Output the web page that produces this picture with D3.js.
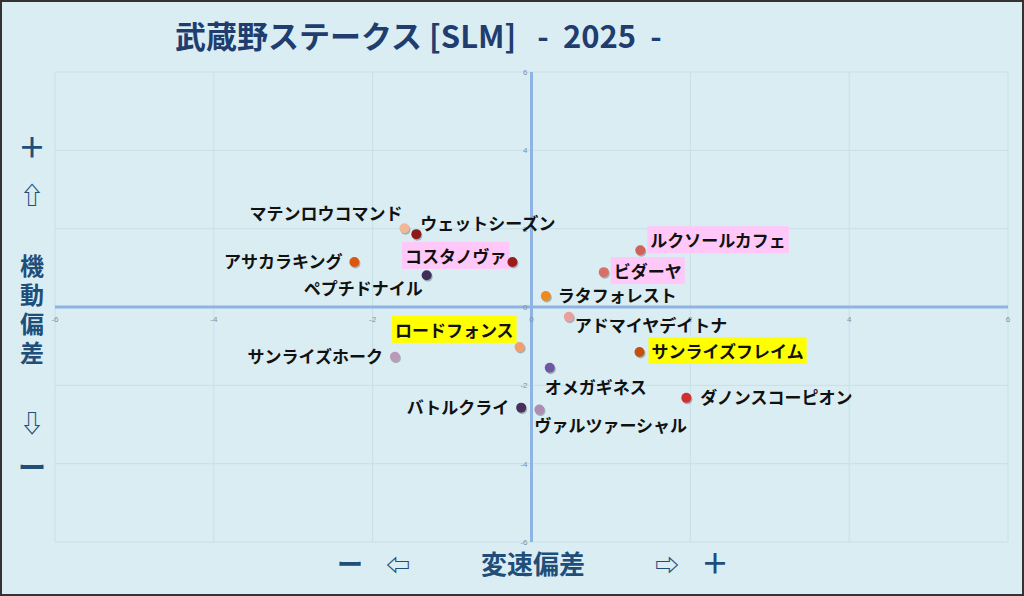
<!DOCTYPE html><html><head><meta charset="utf-8"><script src="https://cdn.jsdelivr.net/npm/d3@7"></script>
<style>body{margin:0;background:#fff}svg{display:block}</style></head><body><svg id="c" width="1024" height="596"></svg>
<script>
const names=["マテンロウコマンド","ウェットシーズン","コスタノヴァ","アサカラキング","ペプチドナイル","ラタフォレスト","アドマイヤデイトナ","ロードフォンス","サンライズホーク","オメガギネス","バトルクライ","ヴァルツァーシャル","ルクソールカフェ","ビダーヤ","サンライズフレイム","ダノンスコーピオン"];
const xs=[-1.60,-1.45,-0.24,-2.23,-1.32,0.18,0.47,-0.15,-1.72,0.23,-0.13,0.10,1.37,0.91,1.36,1.95];
const ys=[2.01,1.86,1.15,1.15,0.81,0.28,-0.25,-1.02,-1.27,-1.55,-2.57,-2.62,1.45,0.89,-1.15,-2.32];
const colors=["#f0b89a","#8b1a1a","#9c1c1c","#d9580e","#3d2f57","#ec8a1e","#e7a09c","#f0a070","#b99ab8","#6e58a4","#4a2f5c","#b08cb0","#d0625c","#d87068","#c4500e","#d03030"];
const highlights=["","","pink","","","","","yellow","","","","","pink","pink","yellow",""];
const labelPos=["l","r","l","l","l","r","r","l","l","b","l","b","r","r","r","r"];
const ticks=[-6,-4,-2,0,2,4,6];
const svg=d3.select("#c");
svg.append("rect").attr("x",1).attr("y",1).attr("width",1022).attr("height",594).attr("fill","#daedf3").attr("stroke","#333").attr("stroke-width",2);
const x=d3.scaleLinear().domain([-6,6]).range([55,1008]);
const y=d3.scaleLinear().domain([-6,6]).range([542,72]);
const g=svg.append("g");
ticks.forEach(t=>{
 g.append("line").attr("x1",x(t)).attr("x2",x(t)).attr("y1",y(6)).attr("y2",y(-6)).attr("stroke","#c8dfe8").attr("stroke-width",1);
 g.append("line").attr("y1",y(t)).attr("y2",y(t)).attr("x1",x(-6)).attr("x2",x(6)).attr("stroke","#c8dfe8").attr("stroke-width",1);
});
g.append("line").attr("x1",x(0)).attr("x2",x(0)).attr("y1",y(6)).attr("y2",y(-6)).attr("stroke","#8eb4e3").attr("stroke-width",3);
g.append("line").attr("y1",y(0)).attr("y2",y(0)).attr("x1",x(-6)).attr("x2",x(6)).attr("stroke","#8eb4e3").attr("stroke-width",3);
ticks.forEach(t=>{
 g.append("text").attr("x",x(t)).attr("y",y(0)+15).attr("text-anchor","middle").attr("font-size",8).attr("fill","#7f8fa0").attr("font-family","Liberation Sans").text(t);
 g.append("text").attr("x",x(0)-4).attr("y",y(t)+3).attr("text-anchor","end").attr("font-size",8).attr("fill","#7f8fa0").attr("font-family","Liberation Sans").text(t);
});
names.forEach((n,i)=>{
 const cx=x(xs[i]),cy=y(ys[i]);
 g.append("circle").attr("cx",cx+1).attr("cy",cy+1.5).attr("r",5).attr("fill","rgba(0,0,0,0.25)");
 g.append("circle").attr("cx",cx).attr("cy",cy).attr("r",5).attr("fill",colors[i]);
 let tx,ty,anchor;
 const p=labelPos[i];
 if(p==="l"){tx=cx-12;ty=cy;anchor="end";}
 else if(p==="r"){tx=cx+12;ty=cy;anchor="start";}
 else {tx=cx-5;ty=cy+20;anchor="start";}
 if(i===0){ty=cy-14;tx=cx-2;}
 if(i===1){ty=cy-10;tx=cx+4;}
 if(i===2){tx=cx-6;ty=cy-5;}
 if(i===4){ty=cy+14;tx=cx-4;}
 if(i===6){ty=cy+9;tx=cx+6;}
 if(i===7){ty=cy-16;tx=cx-6;}
 if(i===11){ty=cy+16;}
 if(i===13){tx=cx+10;}
 if(i===12){tx=cx+10;ty=cy-9;}
 if(i===15){tx=cx+14;}
 const t=g.append("text").attr("x",tx).attr("y",ty).attr("dy","0.35em").attr("text-anchor",anchor).attr("font-size",17).attr("font-weight","bold").attr("font-family","Noto Sans CJK JP").attr("fill","#111").text(n);
 if(highlights[i]){
  const b=t.node().getBBox();
  g.insert("rect","text").attr("x",b.x-3).attr("y",b.y-1).attr("width",b.width+6).attr("height",b.height+2).attr("fill",highlights[i]==="pink"?"#ffc8f8":"#ffff00");
 }
});
g.selectAll("text").raise();
svg.append("text").attr("x",175).attr("y",48).attr("font-size",31).attr("font-weight","bold").attr("font-family","Noto Sans CJK JP").attr("fill","#1f3d6e").style("white-space","pre").text("武蔵野ステークス [SLM]   -  2025  -");
function T(txt,xx,yy,sz){svg.append("text").attr("x",xx).attr("y",yy).attr("text-anchor","middle").attr("font-size",sz||24).attr("font-weight","bold").attr("font-family","Noto Sans CJK JP").attr("fill","#1f4e79").text(txt);}
T("＋",32,158,28);T("⇧",32,204,24);
["機","動","偏","差"].forEach((c,i)=>T(c,32,275+i*29,24));
T("⇩",32,432,24);T("ー",32,478,28);
T("ー",350,574,26);T("⇦",398,574,24);T("変速偏差",533,574,26);T("⇨",667,574,24);T("＋",715,574,28);
</script></body></html>
